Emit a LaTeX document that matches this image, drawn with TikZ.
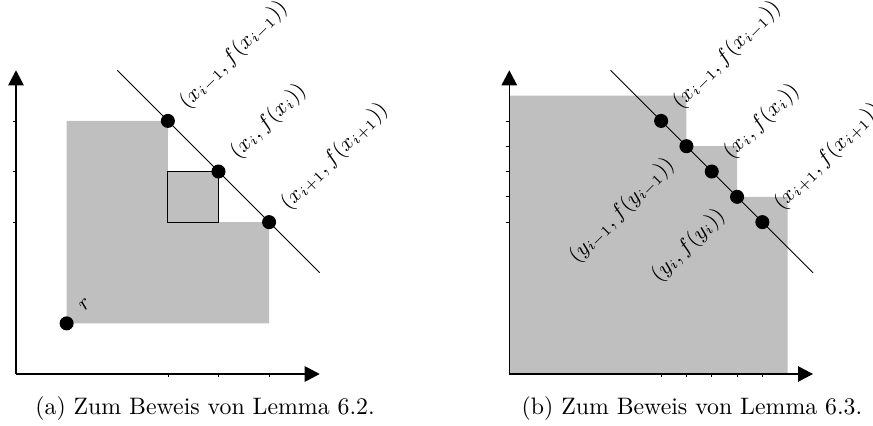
\documentclass[tikz,border=0pt]{standalone}
\usetikzlibrary{arrows.meta,calc}
\begin{document}
\begin{tikzpicture}[
  axis/.style={line width=0.5pt, -{Triangle[length=6.3pt,width=6.5pt]}},
  diag/.style={line width=0.4pt},
  dot/.style={circle, fill=black, inner sep=0pt, minimum size=5.9pt},
  lab/.style={font=\fontsize{8.6}{10}\selectfont, inner sep=0pt, rotate=45},
  region/.style={fill=lightgray, draw=none},
  tickmark/.style={line width=0.3pt},
  captext/.style={anchor=base, inner sep=0pt, font=\normalsize}
]
\useasboundingbox (0,0) rectangle (366.66pt,-178.92pt);

% ---------- panel (a) ----------
\begin{scope}[shift={(6.72pt,-157.08pt)}, x=21.26pt, y=21.26pt]
  \fill[region] (1,1) -| (5,3) -| (3,5) -| cycle;
  \filldraw[fill=lightgray, draw=black, line width=0.5pt] (3,3) rectangle (4,4);
  \foreach \t in {3,4,5} {
    \draw[tickmark] (0,\t) -- ++(-1.3pt,0);
    \draw[tickmark] (\t,0) -- ++(0,-1.3pt);
  }
  \coordinate (ao) at (0,0);
  \coordinate (ay) at (0,6);
  \coordinate (ax) at (6,0);
  \draw[axis] (ao) -- (ay);
  \draw[axis] (ao) -- (ax);
  \coordinate (al1) at (2,6);
  \coordinate (al2) at (6,2);
  \draw[diag] (al1) -- (al2);
  \node[dot] (ar) at (1,1) {};
  \node[dot] (ap1) at (3,5) {};
  \node[dot] (ap2) at (4,4) {};
  \node[dot] (ap3) at (5,3) {};
  \node[lab, anchor=west] (art) at ($(ar)+(45:8.5pt)$) {$r$};
  \node[lab, anchor=west] (at1) at ($(ap1)+(45:9pt)$) {$(x_{i-1},f(x_{i-1}))$};
  \node[lab, anchor=west] (at2) at ($(ap2)+(45:9pt)$) {$(x_{i},f(x_{i}))$};
  \node[lab, anchor=west] (at3) at ($(ap3)+(45:9pt)$) {$(x_{i+1},f(x_{i+1}))$};
\end{scope}

% ---------- panel (b) ----------
\begin{scope}[shift={(213.9pt,-157.08pt)}, x=21.26pt, y=21.26pt]
  \fill[region] (0,0) -| (5.5,3.5) -| (4.5,4.5) -| (3.5,5.5) -| cycle;
  \foreach \t in {3,3.5,4,4.5,5} {
    \draw[tickmark] (0,\t) -- ++(-1.3pt,0);
    \draw[tickmark] (\t,0) -- ++(0,-1.3pt);
  }
  \coordinate (bo) at (0,0);
  \coordinate (by) at (0,6);
  \coordinate (bx) at (6,0);
  \draw[axis] (bo) -- (by);
  \draw[axis] (bo) -- (bx);
  \coordinate (bl1) at (2,6);
  \coordinate (bl2) at (6,2);
  \draw[diag] (bl1) -- (bl2);
  \node[dot] (bp1) at (3,5) {};
  \node[dot] (bq1) at (3.5,4.5) {};
  \node[dot] (bp2) at (4,4) {};
  \node[dot] (bq2) at (4.5,3.5) {};
  \node[dot] (bp3) at (5,3) {};
  \node[lab, anchor=west] (bt1) at ($(bp1)+(45:9pt)$) {$(x_{i-1},f(x_{i-1}))$};
  \node[lab, anchor=west] (bt2) at ($(bp2)+(45:9pt)$) {$(x_{i},f(x_{i}))$};
  \node[lab, anchor=west] (bt3) at ($(bp3)+(45:9pt)$) {$(x_{i+1},f(x_{i+1}))$};
  \node[lab, anchor=east] (bs1) at ($(bq1)+(225:9pt)$) {$(y_{i-1},f(y_{i-1}))$};
  \node[lab, anchor=east] (bs2) at ($(bq2)+(225:9pt)$) {$(y_{i},f(y_{i}))$};
\end{scope}

% ---------- captions ----------
\node[captext] (capa) at (86.1pt,-173.9pt) {(a) Zum Beweis von Lemma 6.2.};
\node[captext] (capb) at (290.6pt,-173.9pt) {(b) Zum Beweis von Lemma 6.3.};
\end{tikzpicture}
\end{document}
